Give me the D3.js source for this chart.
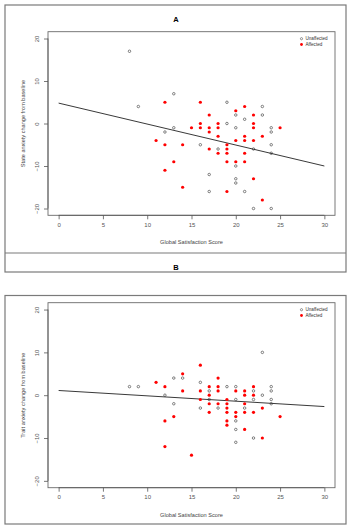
<!DOCTYPE html>
<html>
<head>
<meta charset="utf-8">
<script src="https://cdn.jsdelivr.net/npm/d3@7"></script>
<style>
  body { margin: 0; background: #fff; }
  svg { display: block; font-family: "Liberation Sans", Arial, sans-serif; }
  .frame { fill: none; stroke: #7a7a7a; stroke-width: 1.2; }
  .plotbox { fill: none; stroke: #6a6a6a; stroke-width: 0.9; }
  .axis path, .axis line { stroke: #555; stroke-width: 0.8; }
  .axis text { fill: #555; font-size: 6px; }
</style>
</head>
<body>
<div id="chart"></div>
<script>
// panel A: state anxiety, panel B: trait anxiety  ([score, change])
const stateUnaffected = [[8,17],[13,7],[19,5],[9,4],[23,4],[20,2],[23,2],[21,1],[19,0],[13,-1],[20,-1],[24,-1],
  [12,-2],[24,-2],[16,-5],[24,-5],[18,-6],[22,-6],[24,-7],[20,-10],[17,-12],[20,-13],[20,-14],[17,-16],[21,-16],
  [22,-20],[24,-20]];
const stateAffected = [[12,5],[16,5],[21,4],[20,3],[17,2],[22,2],[16,0],[18,0],[22,0],[15,-1],[16,-1],[17,-1],
  [18,-1],[22,-1],[25,-1],[17,-2],[18,-3],[21,-3],[23,-3],[11,-4],[20,-4],[21,-4],[22,-4],[12,-5],[14,-5],[19,-5],
  [17,-6],[19,-6],[18,-7],[19,-7],[21,-7],[13,-9],[19,-9],[20,-9],[21,-9],[12,-11],[22,-13],[14,-15],[19,-16],[23,-18]];
const stateFit = [[0,4.8],[30,-10]];

const traitUnaffected = [[8,2],[9,2],[23,10],[13,4],[14,4],[16,3],[19,2],[20,2],[24,2],[17,1],[22,1],[24,1],
  [12,0],[23,0],[17,-1],[20,-1],[22,-1],[24,-1],[13,-2],[24,-2],[16,-3],[18,-3],[21,-3],[20,-6],[20,-8],[22,-10],[20,-11]];
const traitAffected = [[16,7],[14,5],[18,4],[11,3],[12,2],[17,2],[18,2],[22,2],[14,1],[16,1],[18,1],[20,1],[21,1],
  [17,0],[21,0],[22,0],[16,-1],[19,-1],[17,-2],[18,-2],[19,-2],[21,-2],[19,-3],[23,-3],[17,-4],[19,-4],[20,-4],
  [21,-4],[22,-4],[13,-5],[20,-5],[25,-5],[12,-6],[19,-6],[19,-7],[21,-8],[23,-10],[12,-12],[15,-14]];
const traitFit = [[0,1.1],[30,-2.65]];

const xTicks = [0, 5, 10, 15, 20, 25, 30];
const yTicks = [-20, -10, 0, 10, 20];
const legendLabels = ['Unaffected', 'Affected'];

const svg = d3.select('#chart').append('svg')
  .attr('width', 352)
  .attr('height', 530);

// outer frames
svg.append('rect').attr('class', 'frame').attr('x', 5).attr('y', 5).attr('width', 341).attr('height', 267);
svg.append('line').attr('class', 'frame').attr('x1', 5).attr('x2', 346).attr('y1', 253).attr('y2', 253);
svg.append('rect').attr('class', 'frame').attr('x', 5).attr('y', 295.5).attr('width', 341).attr('height', 228.5);

svg.append('text').attr('x', 176).attr('y', 21.5).attr('text-anchor', 'middle')
  .style('font-size', '7.5px').style('font-weight', 'bold').text('A');
svg.append('text').attr('x', 176).attr('y', 269.5).attr('text-anchor', 'middle')
  .style('font-size', '7.5px').style('font-weight', 'bold').text('B');

const drawPanel = (top, bottom, unaffected, affected, fit, yTitle) => {
  const xScale = d3.scaleLinear().domain([-1.2, 31.2]).range([48, 335]);
  const yScale = d3.scaleLinear().domain([-21.6, 21.6]).range([bottom, top]);

  const g = svg.append('g');

  g.append('rect')
    .attr('class', 'plotbox')
    .attr('x', 48).attr('y', top)
    .attr('width', 287).attr('height', bottom - top);

  // x axis
  const xAxis = g.append('g')
    .attr('class', 'axis')
    .attr('transform', `translate(0, ${bottom})`)
    .call(d3.axisBottom(xScale).tickValues(xTicks).tickSize(4).tickPadding(3.5));
  xAxis.select('.domain').attr('d', `M${xScale(0)},0H${xScale(30)}`);

  // y axis, labels parallel to axis as in R
  const yAxis = g.append('g')
    .attr('class', 'axis')
    .attr('transform', 'translate(48, 0)')
    .call(d3.axisLeft(yScale).tickValues(yTicks).tickSize(4).tickFormat(d3.format('d')));
  yAxis.select('.domain').attr('d', `M0,${yScale(-20)}V${yScale(20)}`);
  yAxis.selectAll('.tick text')
    .attr('x', 0).attr('dy', 0)
    .attr('text-anchor', 'middle')
    .attr('transform', 'translate(-9, 0) rotate(-90)');

  g.append('text')
    .attr('x', (48 + 335) / 2).attr('y', bottom + 29)
    .attr('text-anchor', 'middle')
    .style('font-size', '5.6px').style('fill', '#444')
    .text('Global Satisfaction Score');

  g.append('text')
    .attr('transform', `translate(24.5, ${(top + bottom) / 2}) rotate(-90)`)
    .attr('text-anchor', 'middle')
    .style('font-size', '5.6px').style('fill', '#444')
    .text(yTitle);

  // fitted line
  g.append('path')
    .attr('d', d3.line().x(d => xScale(d[0])).y(d => yScale(d[1]))(fit))
    .attr('fill', 'none')
    .attr('stroke', '#222')
    .attr('stroke-width', 0.9);

  g.selectAll('.open')
      .data(unaffected)
    .enter().append('circle')
      .attr('cx', d => xScale(d[0]))
      .attr('cy', d => yScale(d[1]))
      .attr('r', 1.25)
      .attr('fill', 'none')
      .attr('stroke', '#333')
      .attr('stroke-width', 0.6);

  g.selectAll('.red')
      .data(affected)
    .enter().append('circle')
      .attr('cx', d => xScale(d[0]))
      .attr('cy', d => yScale(d[1]))
      .attr('r', 1.6)
      .attr('fill', '#f00');

  // legend
  const legend = g.append('g').attr('transform', `translate(301.5, ${top + 7})`);
  legend.append('circle').attr('cx', 0).attr('cy', 0).attr('r', 1.1)
    .attr('fill', 'none').attr('stroke', '#333').attr('stroke-width', 0.5);
  legend.append('circle').attr('cx', 0).attr('cy', 5.8).attr('r', 1.4).attr('fill', '#f00');
  legend.selectAll('text')
      .data(legendLabels)
    .enter().append('text')
      .attr('x', 4)
      .attr('y', (d, i) => i * 5.8 + 1.6)
      .style('font-size', '4.6px').style('fill', '#333')
      .text(d => d);
};

drawPanel(31.7, 215.3, stateUnaffected, stateAffected, stateFit, 'State anxiety change from baseline');
drawPanel(302.7, 487.7, traitUnaffected, traitAffected, traitFit, 'Trait anxiety change from baseline');
</script>
</body>
</html>
